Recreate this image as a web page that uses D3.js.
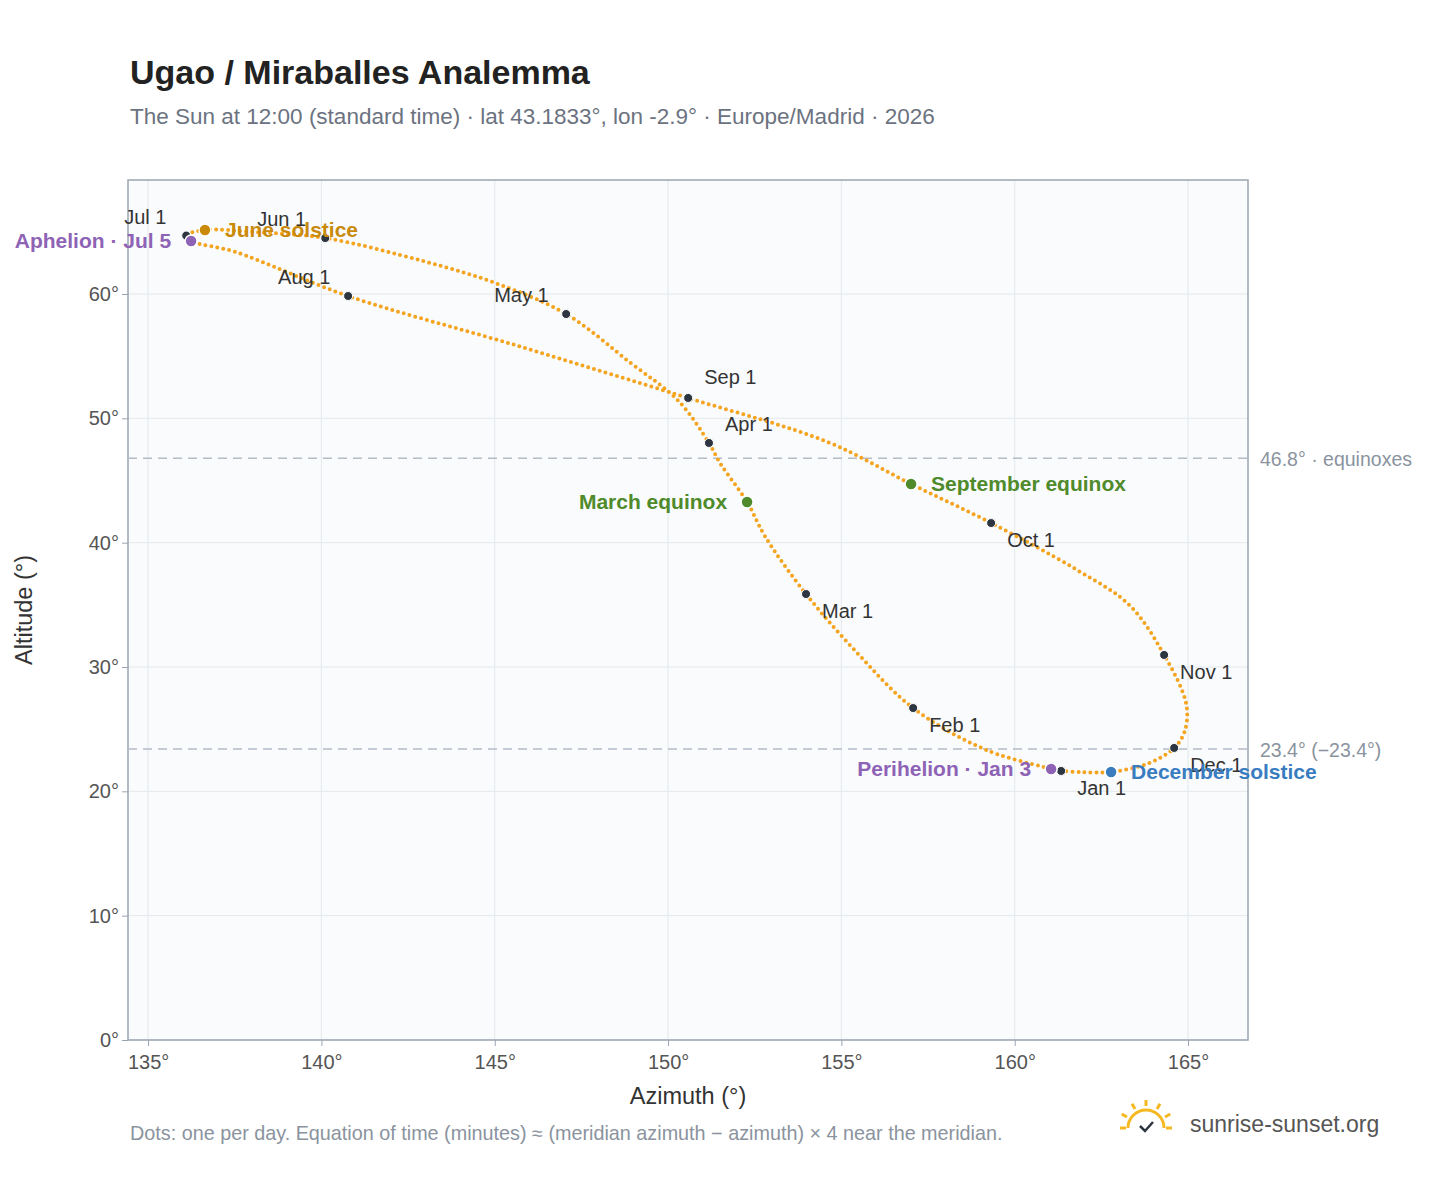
<!DOCTYPE html><html><head><meta charset="utf-8"><script src="https://cdn.jsdelivr.net/npm/d3@7"></script>
<style>body{margin:0;background:#fff;font-family:"Liberation Sans",Arial,sans-serif}</style></head><body><svg id="c" width="1448" height="1188"></svg>
<script>
// analemma path key points [azimuth, altitude], Jan 1 -> Dec 31
const pathPts=[[161.34,21.64],[159.2,23.3],[157.07,26.70],[155.5,31.0],[153.98,35.87],[152.8,40.5],[152.28,43.27],[151.5,46.4],[151.18,48.02],[150.3,51.4],[148.9,54.5],[147.06,58.39],[145.0,60.9],[143.0,62.6],[140.11,64.50],[138.0,65.0],[136.64,65.15],[136.1,64.7],[136.24,64.26],[137.5,63.4],[140.77,59.84],[145.7,55.8],[150.58,51.64],[154.6,48.1],[157.01,44.72],[159.32,41.58],[161.8,37.8],[163.3,35.0],[164.31,30.97],[164.95,27.0],[164.9,24.8],[164.60,23.49],[163.9,22.3],[162.78,21.56],[161.9,21.55],[161.34,21.64]];
const months=["Jan 1","Feb 1","Mar 1","Apr 1","May 1","Jun 1","Jul 1","Aug 1","Sep 1","Oct 1","Nov 1","Dec 1"];
const monthPts=[[161.34,21.64],[157.07,26.70],[153.98,35.87],[151.18,48.02],[147.06,58.39],[140.11,64.50],[136.1,64.7],[140.77,59.84],[150.58,51.64],[159.32,41.58],[164.31,30.97],[164.60,23.49]];
const monthLab=[[16,24],[16,24],[16,24],[16,-12],[-72,-12],[-68,-12],[-62,-12],[-70,-12],[16,-14],[16,24],[16,24],[16,24]];
const special=[{n:"June solstice",p:[136.64,65.15],c:"#c98a0a",dx:20,a:"start"},{n:"Aphelion · Jul 5",p:[136.24,64.26],c:"#8e63b5",dx:-20,a:"end"},{n:"March equinox",p:[152.28,43.27],c:"#4f8a2b",dx:-20,a:"end"},{n:"September equinox",p:[157.01,44.72],c:"#4f8a2b",dx:20,a:"start"},{n:"December solstice",p:[162.78,21.56],c:"#3a7cc0",dx:20,a:"start"},{n:"Perihelion · Jan 3",p:[161.05,21.80],c:"#8e63b5",dx:-20,a:"end"}];
const xTicks=[135,140,145,150,155,160,165], yTicks=[0,10,20,30,40,50,60];
const refLines=[[46.8,"46.8° · equinoxes"],[23.4,"23.4° (−23.4°)"]];
const svg=d3.select("#c");
const x=d3.scaleLinear().domain([134.42,166.73]).range([128,1248]);
const y=d3.scaleLinear().domain([0,69.17]).range([1040,180]);
svg.append("text").attr("x",130).attr("y",84).attr("font-size",34).attr("font-weight","bold").attr("fill","#222").text("Ugao / Miraballes Analemma");
svg.append("text").attr("x",130).attr("y",124).attr("font-size",22.5).attr("fill","#6b7280").text("The Sun at 12:00 (standard time) · lat 43.1833°, lon -2.9° · Europe/Madrid · 2026");
svg.append("rect").attr("x",128).attr("y",180).attr("width",1120).attr("height",860).attr("fill","#f9fbfd");
const g=svg.append("g");
xTicks.forEach(t=>g.append("line").attr("x1",x(t)).attr("x2",x(t)).attr("y1",180).attr("y2",1040).attr("stroke","#e4e8ec"));
yTicks.forEach(t=>g.append("line").attr("x1",128).attr("x2",1248).attr("y1",y(t)).attr("y2",y(t)).attr("stroke","#e4e8ec"));
svg.append("rect").attr("x",128).attr("y",180).attr("width",1120).attr("height",860).attr("fill","none").attr("stroke","#9aa5b1").attr("stroke-width",1.5);
const xa=svg.append("g").attr("transform","translate(0,1040)").call(d3.axisBottom(x).tickValues(xTicks).tickFormat(d=>d+"°").tickSize(6));
const ya=svg.append("g").attr("transform","translate(128,0)").call(d3.axisLeft(y).tickValues(yTicks).tickFormat(d=>d+"°").tickSize(6));
[xa,ya].forEach(a=>{a.select(".domain").remove();a.selectAll("line").attr("stroke","#9aa5b1");a.selectAll("text").attr("font-size",20).attr("fill","#555").attr("font-family","Liberation Sans, Arial");});
xa.selectAll("text").attr("dy","1.0em");
svg.append("text").attr("x",688).attr("y",1104).attr("text-anchor","middle").attr("font-size",23.5).attr("fill","#333").text("Azimuth (°)");
svg.append("text").attr("transform","translate(32,610) rotate(-90)").attr("text-anchor","middle").attr("font-size",23.5).attr("fill","#333").text("Altitude (°)");
refLines.forEach(([v,l])=>{svg.append("line").attr("x1",128).attr("x2",1248).attr("y1",y(v)).attr("y2",y(v)).attr("stroke","#b4bcc6").attr("stroke-width",1.5).attr("stroke-dasharray","9,6");
svg.append("text").attr("x",1260).attr("y",y(v)+8).attr("font-size",19.5).attr("fill","#8a939e").text(l);});
svg.append("path").datum(pathPts).attr("d",d3.line().x(d=>x(d[0])).y(d=>y(d[1])).curve(d3.curveCatmullRom)).attr("fill","none").attr("stroke","#f4a41f").attr("stroke-width",4).attr("stroke-linecap","round").attr("stroke-dasharray","0,6");
monthPts.forEach((p,i)=>{svg.append("circle").attr("cx",x(p[0])).attr("cy",y(p[1])).attr("r",4.5).attr("fill","#2d3540").attr("stroke","#fff").attr("stroke-width",1);
svg.append("text").attr("x",x(p[0])+monthLab[i][0]).attr("y",y(p[1])+monthLab[i][1]).attr("font-size",20).attr("fill","#333").text(months[i]);});
special.forEach(s=>{svg.append("circle").attr("cx",x(s.p[0])).attr("cy",y(s.p[1])).attr("r",6).attr("fill",s.c).attr("stroke","#fff").attr("stroke-width",1.5);
svg.append("text").attr("x",x(s.p[0])+s.dx).attr("y",y(s.p[1])+7).attr("text-anchor",s.a).attr("font-size",21).attr("font-weight","bold").attr("fill",s.c).text(s.n);});
svg.append("text").attr("x",130).attr("y",1140).attr("font-size",19.8).attr("fill","#8a939e").text("Dots: one per day. Equation of time (minutes) ≈ (meridian azimuth − azimuth) × 4 near the meridian.");
const lg=svg.append("g").attr("transform","translate(1146,1128)");
lg.append("path").attr("d","M-18,0 A18,18 0 0 1 18,0").attr("fill","none").attr("stroke","#f6b821").attr("stroke-width",3);
[-60,-30,0,30,60].forEach(a=>{const r=a*Math.PI/180;lg.append("line").attr("x1",Math.sin(r)*22).attr("y1",-Math.cos(r)*22).attr("x2",Math.sin(r)*28).attr("y2",-Math.cos(r)*28).attr("stroke","#f6b821").attr("stroke-width",3);});
lg.append("line").attr("x1",-26).attr("x2",-20).attr("y1",0).attr("y2",0).attr("stroke","#f6b821").attr("stroke-width",3);
lg.append("line").attr("x1",20).attr("x2",26).attr("y1",0).attr("y2",0).attr("stroke","#f6b821").attr("stroke-width",3);
lg.append("path").attr("d","M-6,-2 L-1,3 L7,-6").attr("fill","none").attr("stroke","#2d3540").attr("stroke-width",2.5);
svg.append("text").attr("x",1190).attr("y",1132).attr("font-size",23).attr("fill","#555").text("sunrise-sunset.org");
</script></body></html>
